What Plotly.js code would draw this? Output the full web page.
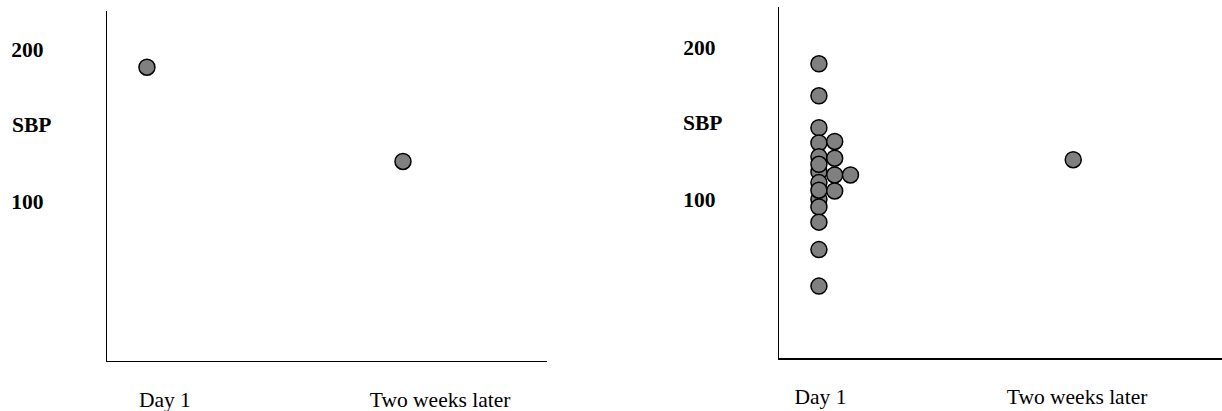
<!DOCTYPE html>
<html>
<head>
<meta charset="utf-8">
<script src="https://cdn.plot.ly/plotly-3.0.1.min.js"></script>
<style>
  html, body { margin: 0; padding: 0; background: #fff; }
  #chart { width: 1222px; height: 411px; }
</style>
</head>
<body>
<div id="chart"></div>
<script>
// ---- data ----
const categories = ['Day 1', 'Two weeks later'];
const yTickValues = [100, 200];
const yTickLabels = ['100', '200'];
const yLabel = 'SBP';

// Left panel: one patient
const leftDay1 = [188];
const leftLater = [126];

// Right panel: many patients on day 1 (dot plot, stacked sideways), one later value
const rightDay1 = [189, 168, 147, 137, 128, 118, 111, 100, 123, 106, 95, 85, 67, 43, 138, 127, 116, 105.5, 116];
const rightDay1Stack = [0, 0, 0, 0, 0, 0, 0, 0, 0, 0, 0, 0, 0, 0, 1, 1, 1, 1, 2];
const rightLater = [126];

// ---- styling ----
const FONT = 'Liberation Serif, Times New Roman, serif';
const FS = 21.5;
const STACK_STEP = 0.062;
const marker = { size: 16, color: '#808080', line: { color: '#000', width: 1.5 } };

function stackX(groupIndex, stacks) { return stacks.map(s => groupIndex + s * STACK_STEP); }

const traces = [
  { type: 'scatter', mode: 'markers', x: leftDay1.map(() => 0), y: leftDay1, xaxis: 'x', yaxis: 'y', marker, hoverinfo: 'y' },
  { type: 'scatter', mode: 'markers', x: leftLater.map(() => 1), y: leftLater, xaxis: 'x', yaxis: 'y', marker, hoverinfo: 'y' },
  { type: 'scatter', mode: 'markers', x: stackX(0, rightDay1Stack), y: rightDay1, xaxis: 'x2', yaxis: 'y2', marker, hoverinfo: 'y' },
  { type: 'scatter', mode: 'markers', x: rightLater.map(() => 1), y: rightLater, xaxis: 'x2', yaxis: 'y2', marker, hoverinfo: 'y' }
];

const W = 1222, H = 411;
const px = v => v / W, py = v => 1 - v / H;

const xCommon = {
  showline: true, linecolor: '#000', linewidth: 1.3, showgrid: false, zeroline: false,
  ticks: '', ticktext: categories, tickmode: 'array',
  tickfont: { family: FONT, size: FS, color: '#000' }, ticklabelstandoff: 19, fixedrange: true
};
const yCommon = {
  showline: true, linecolor: '#000', linewidth: 1.3, showgrid: false, zeroline: false,
  ticks: '', tickmode: 'array', tickvals: yTickValues, ticktext: yTickLabels,
  tickfont: { family: FONT, size: FS, color: '#000', weight: 'bold' }, ticklabelstandoff: 58, fixedrange: true
};

const layout = {
  width: W, height: H,
  margin: { l: 0, r: 0, t: 0, b: 0 },
  paper_bgcolor: '#fff', plot_bgcolor: '#fff',
  showlegend: false,
  xaxis: Object.assign({}, xCommon, { domain: [px(107), px(547)], range: [-0.156, 1.5625], tickvals: [0.07, 1.145], anchor: 'y' }),
  yaxis: Object.assign({}, yCommon, { domain: [py(361), py(11)], range: [-5.3, 225], anchor: 'x' }),
  xaxis2: Object.assign({}, xCommon, { domain: [px(779), 1], range: [-0.157, 1.585], tickvals: [0.006, 1.015], anchor: 'y2' }),
  yaxis2: Object.assign({}, yCommon, { domain: [py(358.3), py(7)], range: [-4.4, 226.3], anchor: 'x2' }),
  annotations: [
    { xref: 'paper', yref: 'y', x: px(10), y: 150, xanchor: 'left', yanchor: 'middle', text: yLabel, showarrow: false,
      font: { family: FONT, size: FS, color: '#000', weight: 'bold' } },
    { xref: 'paper', yref: 'y2', x: px(681), y: 150, xanchor: 'left', yanchor: 'middle', text: yLabel, showarrow: false,
      font: { family: FONT, size: FS, color: '#000', weight: 'bold' } }
  ]
};

Plotly.newPlot('chart', traces, layout, { displayModeBar: false, staticPlot: true });
</script>
</body>
</html>
